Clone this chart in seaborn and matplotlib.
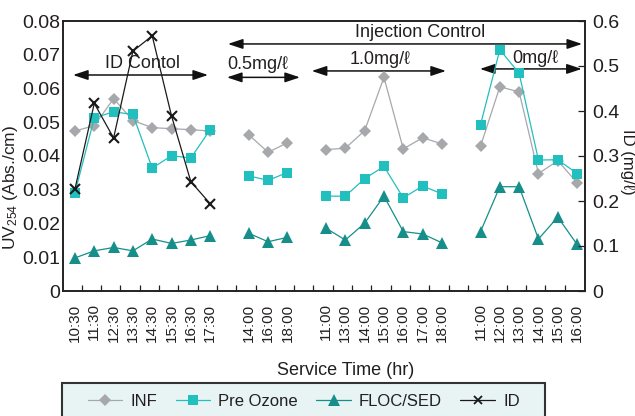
import matplotlib
matplotlib.use("Agg")
import matplotlib.pyplot as plt
from matplotlib.lines import Line2D
from matplotlib.patches import Rectangle
import numpy as np
import pandas as pd
import seaborn as sns

# ---- data -------------------------------------------------------------
phases = ["ID Contol"] * 8 + ["0.5mg/ℓ"] * 3 + ["1.0mg/ℓ"] * 7 + ["0mg/ℓ"] * 6
times = ["10:30", "11:30", "12:30", "13:30", "14:30", "15:30", "16:30", "17:30",
         "14:00", "16:00", "18:00",
         "11:00", "13:00", "14:00", "15:00", "16:00", "17:00", "18:00",
         "11:00", "12:00", "13:00", "14:00", "15:00", "16:00"]
inf = [0.0474, 0.0490, 0.0570, 0.0505, 0.0484, 0.0481, 0.0478, 0.0474,
       0.0463, 0.0411, 0.0439,
       0.0419, 0.0423, 0.0475, 0.0633, 0.0421, 0.0454, 0.0436,
       0.0429, 0.0605, 0.0590, 0.0348, 0.0386, 0.0321]
pre_ozone = [0.0291, 0.0513, 0.0531, 0.0523, 0.0364, 0.0401, 0.0394, 0.0478,
             0.0341, 0.0328, 0.0351,
             0.0281, 0.0281, 0.0333, 0.0369, 0.0276, 0.0311, 0.0288,
             0.0493, 0.0715, 0.0645, 0.0388, 0.0389, 0.0348]
floc_sed = [0.0098, 0.0119, 0.0129, 0.0119, 0.0154, 0.0141, 0.0151, 0.0164,
            0.0171, 0.0146, 0.0159,
            0.0186, 0.0151, 0.0201, 0.0281, 0.0176, 0.0169, 0.0143,
            0.0176, 0.0309, 0.0309, 0.0154, 0.0219, 0.0138]
id_dose = [0.227, 0.417, 0.340, 0.533, 0.567, 0.389, 0.243, 0.194]

left_ticks = [0, 0.01, 0.02, 0.03, 0.04, 0.05, 0.06, 0.07, 0.08]
left_tick_labels = ["0", "0.01", "0.02", "0.03", "0.04", "0.05", "0.06", "0.07", "0.08"]
right_ticks = [0, 0.1, 0.2, 0.3, 0.4, 0.5, 0.6]
right_tick_labels = ["0", "0.1", "0.2", "0.3", "0.4", "0.5", "0.6"]

# ---- style ------------------------------------------------------------
sns.set_style("white")
plt.rcParams["font.family"] = ["Liberation Sans", "DejaVu Sans"]
plt.rcParams["mathtext.default"] = "regular"
TXT = "#231f20"
C_INF, C_PRE, C_FLOC, C_ID = "#a6a8ab", "#22bfbf", "#168f8a", "#1a1a1a"

# one empty slot between consecutive phases
order = list(dict.fromkeys(phases))
pos = [i + order.index(p) for i, p in enumerate(phases)]
df = pd.DataFrame({"pos": pos, "phase": phases, "time": times,
                   "INF": inf, "Pre Ozone": pre_ozone, "FLOC/SED": floc_sed})
df_id = df.iloc[:len(id_dose)].copy()
df_id["ID"] = id_dose

fig = plt.figure(figsize=(6.35, 4.16), dpi=100)
ax = fig.add_axes([63 / 635, 1 - 291 / 416, 522 / 635, 270 / 416])
ax2 = ax.twinx()

common = dict(x="pos", units="phase", estimator=None, legend=False, linewidth=0.9)
sns.lineplot(data=df, y="INF", color=C_INF, marker="D", markersize=6.5,
             markeredgewidth=0, ax=ax, **common)
sns.lineplot(data=df, y="Pre Ozone", color=C_PRE, marker="s", markersize=7.8,
             markeredgewidth=0, ax=ax, **common)
sns.lineplot(data=df, y="FLOC/SED", color=C_FLOC, marker="^", markersize=8,
             markeredgewidth=0, ax=ax, **common)
sns.lineplot(data=df_id, y="ID", color=C_ID, marker="x", markersize=6.5,
             markeredgewidth=1.5, markeredgecolor=C_ID, ax=ax2, **common)

# ---- axes -------------------------------------------------------------
xmin, xmax = -0.62, max(pos) + 0.41
ax.set_xlim(xmin, xmax)
ax.set_ylim(0, 0.08)
ax2.set_ylim(0, 0.6)

ax.set_xticks(pos, times, rotation=90, fontsize=11, color=TXT)
ax.set_xticks(np.arange(max(pos)) + 0.35, minor=True)
ax.tick_params(axis="x", which="major", length=0, pad=9)
ax.tick_params(axis="x", which="minor", direction="in", length=4, width=0.9,
               color=TXT, bottom=True)
ax.set_yticks(left_ticks, left_tick_labels, fontsize=14, color=TXT,
              fontfamily=["Liberation Sans Narrow", "Liberation Sans"])
ax.tick_params(axis="y", length=0, pad=2)
ax2.set_yticks(right_ticks, right_tick_labels, fontsize=14, color=TXT,
               fontfamily=["Liberation Sans Narrow", "Liberation Sans"])
ax2.tick_params(axis="y", direction="in", length=5, width=0.9, color=TXT, pad=5)

for a in (ax, ax2):
    for s in a.spines.values():
        s.set_visible(True)
        s.set_color("#222222")
        s.set_linewidth(1.2)

ax.set_ylabel("UV$_{254}$ (Abs./cm)", fontsize=12.5, color=TXT)
ax.yaxis.set_label_coords(-0.083, 0.383)
ax2.set_ylabel("ID (mg/ℓ)", fontsize=12, color=TXT, rotation=270, va="center")
ax2.yaxis.set_label_coords(1.082, 0.478)
ax.set_xlabel("Service Time (hr)", fontsize=13, color=TXT)
ax.xaxis.set_label_coords(0.542, -0.262)

# ---- phase annotations --------------------------------------------------
arrow = dict(arrowstyle="<|-|>,head_length=0.9,head_width=0.3", color="#111111",
             lw=1.1, shrinkA=0, shrinkB=0)
spans = [("ID Contol", -0.10, 6.89, 0.0640, 3.52, 0.0675),
         ("Injection Control", 7.92, 26.26, 0.0732, 17.87, 0.0765),
         ("0.5mg/ℓ", 7.87, 11.65, 0.0633, 9.48, 0.0670),
         ("1.0mg/ℓ", 12.26, 19.21, 0.0652, 15.8, 0.0685),
         ("0mg/ℓ", 20.97, 26.24, 0.0658, 23.82, 0.0689)]
for label, x0, x1, y, tx, ty in spans:
    ax.annotate("", xy=(x1, y), xytext=(x0, y), arrowprops=arrow, zorder=1)
    ax.text(tx, ty, label, ha="center", va="center", fontsize=13, color=TXT,
            family=["Liberation Sans", "DejaVu Sans"])

# ---- legend -------------------------------------------------------------
fig.patches.append(Rectangle((62 / 635, -0.05), (545 - 62) / 635, 0.05 + 33 / 416,
                             transform=fig.transFigure, facecolor="#e8f4f4",
                             edgecolor="#333333", linewidth=1.5, zorder=0))
handles = [
    Line2D([], [], color=C_INF, marker="D", markersize=6, markeredgewidth=0, lw=0.9),
    Line2D([], [], color=C_PRE, marker="s", markersize=7, markeredgewidth=0, lw=0.9),
    Line2D([], [], color=C_FLOC, marker="^", markersize=8, markeredgewidth=0, lw=0.9),
    Line2D([], [], color=C_ID, marker="x", markersize=5.5, markeredgewidth=1.3, lw=0.9),
]
leg = fig.legend(handles, ["INF", "Pre Ozone", "FLOC/SED", "ID"], loc="center left",
                 bbox_to_anchor=(88 / 635, 1 - 401.7 / 416), ncol=4, frameon=False,
                 borderpad=0, borderaxespad=0, handlelength=2.06, handletextpad=0.5,
                 columnspacing=1.1, fontsize=12)
for t in leg.get_texts():
    t.set_color(TXT)

fig.savefig("out.png", dpi=100)
